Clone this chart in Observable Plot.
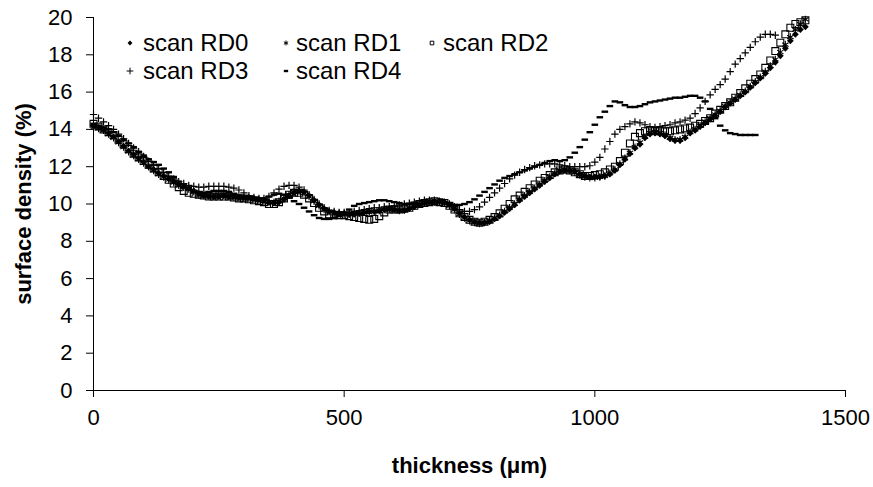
<!DOCTYPE html>
<html><head><meta charset="utf-8">
<script src="https://cdn.jsdelivr.net/npm/d3@7"></script>
<script src="https://cdn.jsdelivr.net/npm/@observablehq/plot@0.6"></script>
<style>
body{margin:0;background:#fff;}
#wrap{position:relative;width:873px;height:487px;font-family:"Liberation Sans",Arial,sans-serif;}
#legend{position:absolute;left:0;top:0;font-size:24px;color:#000;}
.li{position:absolute;display:flex;align-items:center;white-space:nowrap;line-height:1;height:26px;}
g[aria-label="x-axis label"] text, g[aria-label="y-axis label"] text{font-weight:bold;}
</style>
</head><body><div id="wrap"><div id="legend"></div></div>
<script>
const thickness = [0,10,20,30,40,50,60,70,80,90,100,110,120,130,140,150,160,170,180,190,200,210,220,230,240,250,260,270,280,290,300,310,320,330,340,350,360,370,380,390,400,410,420,430,440,450,460,470,480,490,500,510,520,530,540,550,560,570,580,590,600,610,620,630,640,650,660,670,680,690,700,710,720,730,740,750,760,770,780,790,800,810,820,830,840,850,860,870,880,890,900,910,920,930,940,950,960,970,980,990,1000,1010,1020,1030,1040,1050,1060,1070,1080,1090,1100,1110,1120,1130,1140,1150,1160,1170,1180,1190,1200,1210,1220,1230,1240,1250,1260,1270,1280,1290,1300,1310,1320,1330,1340,1350,1360,1370,1380,1390,1400,1410,1420];

const rd0 = [14.2,14.1,14.0,13.8,13.6,13.35,13.1,12.85,12.65,12.45,
12.25,12.0,11.85,11.65,11.5,11.35,11.2,11.05,10.95,10.85,
10.7,10.55,10.45,10.4,10.4,10.4,10.45,10.4,10.4,10.35,
10.35,10.35,10.3,10.25,10.2,10.1,10.05,10.1,10.25,10.45,
10.6,10.7,10.65,10.45,10.2,9.95,9.75,9.6,9.55,9.5,
9.5,9.45,9.45,9.5,9.55,9.6,9.6,9.65,9.7,9.75,
9.7,9.65,9.65,9.75,9.85,9.95,10.05,10.1,10.15,10.15,
10.1,9.95,9.75,9.5,9.3,9.15,9.05,9.0,9.0,9.05,
9.2,9.35,9.55,9.75,9.95,10.2,10.4,10.6,10.8,11.0,
11.2,11.4,11.6,11.75,11.8,11.8,11.75,11.6,11.5,11.45,
11.45,11.45,11.5,11.6,11.8,12.1,12.4,12.7,13.0,13.2,
13.55,13.75,13.8,13.75,13.65,13.5,13.4,13.4,13.55,13.8,
13.95,14.15,14.35,14.55,14.75,14.95,15.2,15.4,15.6,15.8,
16.0,16.25,16.5,16.75,17.0,17.3,17.6,17.95,18.35,18.75,
19.1,19.35,19.5];

const rd1 = [14.1,14.05,13.95,13.75,13.55,13.3,13.05,12.8,12.6,12.4,
12.2,12.0,11.8,11.6,11.45,11.3,11.15,11.0,10.9,10.8,
10.65,10.5,10.45,10.45,10.4,10.45,10.45,10.4,10.35,10.35,
10.3,10.3,10.25,10.2,10.15,10.1,10.1,10.15,10.3,10.5,
10.65,10.7,10.6,10.4,10.15,9.9,9.7,9.6,9.5,9.5,
9.45,9.45,9.5,9.5,9.55,9.55,9.6,9.65,9.7,9.7,
9.7,9.65,9.7,9.8,9.9,10.0,10.05,10.1,10.1,10.1,
10.05,9.9,9.7,9.45,9.25,9.1,9.0,8.95,9.0,9.1,
9.25,9.4,9.6,9.8,10.0,10.25,10.45,10.65,10.85,11.05,
11.25,11.45,11.65,11.8,11.85,11.8,11.7,11.55,11.45,11.4,
11.4,11.45,11.5,11.65,11.85,12.15,12.45,12.75,13.05,13.3,
13.6,13.8,13.85,13.8,13.7,13.55,13.45,13.45,13.6,13.85,
14.0,14.2,14.4,14.6,14.8,15.0,15.25,15.45,15.65,15.85,
16.05,16.3,16.55,16.8,17.1,17.4,17.75,18.15,18.55,18.95,
19.35,19.65,19.9];

const rd2 = [14.3,14.15,14.0,13.85,13.7,13.45,13.2,12.95,12.7,12.5,
12.3,12.1,11.9,11.7,11.5,11.3,11.1,10.9,10.7,10.6,
10.55,10.5,10.45,10.4,10.4,10.4,10.4,10.4,10.35,10.3,
10.3,10.25,10.2,10.15,10.1,10.0,10.0,10.1,10.3,10.5,
10.6,10.6,10.5,10.3,10.05,9.8,9.6,9.45,9.4,9.4,
9.4,9.35,9.3,9.25,9.2,9.15,9.2,9.35,9.55,9.7,
9.7,9.7,9.75,9.8,9.9,10.0,10.05,10.1,10.15,10.1,
10.05,9.9,9.7,9.5,9.3,9.15,9.05,9.0,9.05,9.15,
9.3,9.5,9.75,10.0,10.25,10.45,10.65,10.85,11.05,11.25,
11.4,11.55,11.7,11.8,11.85,11.8,11.7,11.6,11.5,11.5,
11.55,11.6,11.7,11.85,12.0,12.3,12.75,13.25,13.6,13.8,
13.9,13.95,13.95,13.9,13.9,13.9,13.95,14.0,14.05,14.1,
14.2,14.3,14.45,14.6,14.85,15.05,15.25,15.45,15.7,15.95,
16.2,16.45,16.7,16.95,17.3,17.7,18.2,18.65,19.1,19.45,
19.65,19.75,19.85];

const rd3 = [14.8,14.6,14.4,14.2,14.0,13.75,13.5,13.25,13.0,12.8,
12.55,12.3,12.1,11.9,11.7,11.5,11.35,11.2,11.1,11.0,
10.95,10.9,10.9,10.95,10.95,10.95,10.95,10.9,10.85,10.75,
10.6,10.45,10.35,10.3,10.3,10.4,10.6,10.8,10.95,11.0,
11.0,10.9,10.75,10.5,10.25,10.0,9.8,9.65,9.6,9.55,
9.55,9.55,9.6,9.65,9.7,9.75,9.8,9.8,9.85,9.85,
9.9,9.95,10.0,10.05,10.1,10.15,10.2,10.2,10.2,10.15,
10.1,10.0,9.85,9.7,9.6,9.6,9.7,9.85,10.1,10.35,
10.6,10.85,11.1,11.35,11.55,11.7,11.85,11.95,12.05,12.1,
12.15,12.15,12.15,12.1,12.05,12.0,12.0,12.0,12.0,12.05,
12.25,12.5,12.95,13.35,13.75,14.0,14.15,14.3,14.4,14.35,
14.25,14.15,14.1,14.15,14.2,14.25,14.35,14.4,14.5,14.6,
14.85,15.15,15.5,15.85,16.15,16.4,16.7,17.1,17.5,17.8,
18.1,18.4,18.7,18.95,19.1,19.1,19.05];

const rd4 = [14.3,14.2,14.1,14.0,13.85,13.65,13.45,13.25,13.05,12.8,
12.6,12.4,12.25,12.1,11.9,11.7,11.45,11.2,11.0,10.8,
10.65,10.6,10.6,10.65,10.7,10.7,10.7,10.65,10.55,10.45,
10.35,10.3,10.25,10.25,10.3,10.4,10.5,10.55,10.5,10.35,
10.15,10.0,9.8,9.6,9.4,9.25,9.2,9.2,9.25,9.35,
9.5,9.7,9.9,10.0,10.05,10.1,10.15,10.2,10.2,10.15,
10.1,10.05,10.0,10.0,10.0,10.0,10.05,10.05,10.1,10.1,
10.05,10.0,9.95,9.95,10.0,10.1,10.25,10.45,10.65,10.85,
11.05,11.25,11.4,11.5,11.6,11.7,11.8,11.9,12.0,12.1,
12.2,12.3,12.35,12.3,12.35,12.5,12.75,13.05,13.45,13.85,
14.25,14.65,14.95,15.25,15.5,15.45,15.3,15.2,15.2,15.25,
15.35,15.45,15.5,15.55,15.6,15.65,15.7,15.7,15.75,15.8,
15.8,15.7,15.5,15.1,14.6,14.2,13.95,13.8,13.75,13.7,
13.7,13.7,13.7];

const seriesNames = ["scan RD0","scan RD1","scan RD2","scan RD3","scan RD4"];
const xTicks = [0,500,1000,1500];
const yTicks = [0,2,4,6,8,10,12,14,16,18,20];
const xLabel = "thickness (\u03bcm)";
const yLabel = "surface density (%)";

const toRows = (name, ys) => ys.map((y, i) => ({series: name, x: thickness[i], y}));
const sets = [rd0, rd1, rd2, rd3, rd4].map((ys, i) => toRows(seriesNames[i], ys));

const diamondSym = {draw(ctx, size){const s = Math.sqrt(size)*0.6; ctx.moveTo(0,-s); ctx.lineTo(s,0); ctx.lineTo(0,s); ctx.lineTo(-s,0); ctx.closePath();}};
const dashSym = {draw(ctx, size){const w = Math.sqrt(size)*0.53; ctx.rect(-w,-1.2,2*w,2.4);}};

const styles = [
  {symbol: diamondSym, fill: "black", stroke: "none", r: 3.2},
  {symbol: "asterisk", fill: "none", stroke: "black", r: 3.5, strokeWidth: 1.1},
  {symbol: "square2", fill: "none", stroke: "black", r: 4.4, strokeWidth: 1.1},
  {symbol: "plus", fill: "none", stroke: "black", r: 2.5, strokeWidth: 1.2},
  {symbol: dashSym, fill: "black", stroke: "none", r: 3.5}
];
const legendSymbols = [diamondSym, d3.symbolAsterisk, d3.symbolSquare2, d3.symbolPlus, dashSym];

const font = '"Liberation Sans", Arial, sans-serif';
const chart = Plot.plot({
  width: 873, height: 487,
  marginLeft: 93, marginRight: 28, marginTop: 17, marginBottom: 97,
  style: {fontFamily: font, fontSize: "22px", color: "black", background: "white", overflow: "visible"},
  x: {domain: [0, 1500]},
  y: {domain: [0, 20]},
  marks: [
    Plot.axisY({ticks: yTicks, tickSize: 7, tickPadding: 14, tickFormat: d => String(d), label: yLabel, labelAnchor: "center", labelOffset: 78, labelArrow: "none", fontSize: 22}),
    Plot.axisX({ticks: xTicks, tickSize: 7, tickPadding: 12, tickFormat: d => String(d), label: xLabel, labelAnchor: "center", labelOffset: 82, labelArrow: "none", fontSize: 22}),
    Plot.ruleX([0], {stroke: "black"}),
    Plot.ruleY([0], {stroke: "black"}),
    ...sets.map((data, i) => Plot.dot(data, {x: "x", y: "y", ...styles[i]}))
  ]
});
document.getElementById("wrap").prepend(chart);

// legend
const legend = document.getElementById("legend");
const legendPos = [[130,143,43],[286,296,43],[432,443,43],[130,143,71],[286,296,71]];
seriesNames.forEach((name, i) => {
  const [mx, tx, cy] = legendPos[i];
  const st = styles[i];
  const div = document.createElement("div");
  div.className = "li";
  div.style.left = (mx - 6) + "px";
  div.style.top = (cy - 13) + "px";
  const r = 2.3;
  const path = d3.symbol(legendSymbols[i], Math.PI * r * r)();
  div.innerHTML = `<svg width="12" height="12" viewBox="-6 -6 12 12" style="overflow:visible"><path d="${path}" fill="${st.fill}" stroke="${st.stroke}" stroke-width="1"/></svg><span style="margin-left:${tx - mx - 6}px">${name}</span>`;
  legend.appendChild(div);
});
</script>
</body></html>
